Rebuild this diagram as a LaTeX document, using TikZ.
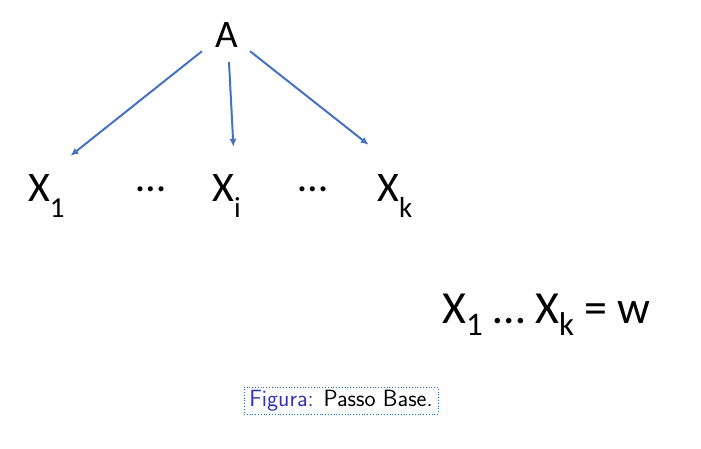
\documentclass[tikz,border=0pt]{standalone}
\usepackage{fontspec}
\setmainfont{Carlito}
\usetikzlibrary{arrows.meta}
\definecolor{arrowblue}{RGB}{68,114,196}
\definecolor{figblue}{RGB}{51,51,179}
\definecolor{linkblue}{RGB}{30,110,220}
\newcommand{\lowsub}[3]{\raisebox{-#3pt}{\fontsize{#2}{#2}\selectfont #1}}

\begin{document}
\begin{tikzpicture}[x=1pt, y=-1pt,
lbl/.style={inner sep=0pt, anchor=base west, font=\fontsize{42}{42}\selectfont},
arr/.style={-{Latex[length=8pt, width=7pt]}, draw=arrowblue, line width=2pt},
figcap/.style={draw=linkblue, dotted, line width=0.8pt, minimum width=194pt, minimum height=27pt, inner sep=0pt, font=\sffamily\fontsize{23.5}{23.5}\selectfont}
]
\useasboundingbox (0,0) rectangle (701,449);
%Nodes
\node[lbl, anchor=base, font=\fontsize{39}{39}\selectfont] (A) at (227,48) {A};
\node[lbl]      (x1)     at (28,201)       {X\lowsub{1}{29}{16}};
\node[lbl]      (dots1)  at (136,192)      {…};
\node[lbl]      (xi)     at (212,201)      {X\lowsub{i}{29}{16}};
\node[lbl]      (dots2)  at (298,192)      {…};
\node[lbl]      (xk)     at (377,201)      {X\lowsub{k}{29}{16}};
\node[lbl, font=\fontsize{46}{46}\selectfont] (w) at (442,323) {X\lowsub{1}{33}{12} … X\lowsub{k}{33}{12} = w};
\node[figcap]   (fig)    at (341,400.5)    {{\color{figblue}Figura:} Passo Base.};
%Lines
\draw[arr] ([xshift=-25pt, yshift=-3pt]A.south) -- ([xshift=24pt, yshift=18pt]x1.north);
\draw[arr] ([xshift=2pt, yshift=-14pt]A.south) -- ([xshift=7pt, yshift=27pt]xi.north);
\draw[arr] ([xshift=23pt, yshift=-3pt]A.south) -- ([xshift=-26pt, yshift=29pt]xk.north);
\end{tikzpicture}
\end{document}
